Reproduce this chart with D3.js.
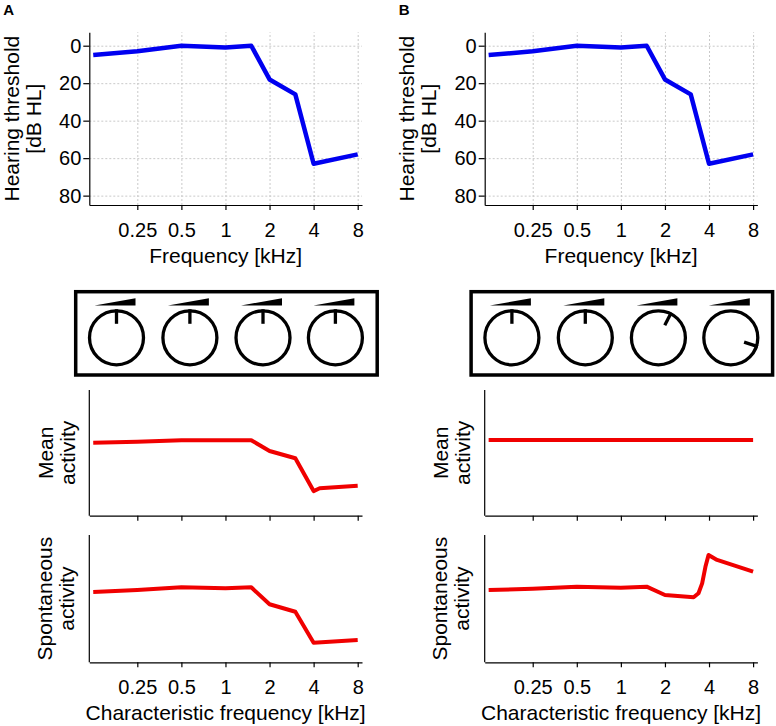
<!DOCTYPE html>
<html>
<head>
<meta charset="utf-8">
<script src="https://cdn.jsdelivr.net/npm/d3@7"></script>
<style>
  html, body { margin: 0; padding: 0; background: #fff; }
  svg { display: block; font-family: "Liberation Sans", Arial, sans-serif; }
</style>
</head>
<body>
<svg id="chart" width="776" height="726"></svg>
<script>
// ---------- data ----------
const freqTicks = [0.25, 0.5, 1, 2, 4, 8];
const freqTickLabels = ["0.25", "0.5", "1", "2", "4", "8"];
const thrTicks = [0, 20, 40, 60, 80];

const thrFreq = [0.125, 0.25, 0.5, 1, 1.5, 2, 3, 4, 8];
const thresholdA = [5, 3, 0, 1, 0, 18, 26, 63, 58];
const thresholdB = [5, 3, 0, 1, 0, 18, 26, 63, 58];

const meanFreqA = [0.125, 0.25, 0.5, 1, 1.5, 2, 3, 4, 4.4, 8];
const meanA = [0.581, 0.589, 0.6, 0.6, 0.6, 0.515, 0.457, 0.196, 0.218, 0.239];
const meanFreqB = [0.125, 0.25, 0.5, 1, 2, 4, 8];
const meanB = [0.602, 0.602, 0.602, 0.602, 0.602, 0.602, 0.602];

const spontFreqA = [0.125, 0.25, 0.5, 1, 1.5, 2, 3, 4, 8];
const spontA = [0.552, 0.568, 0.589, 0.581, 0.589, 0.456, 0.397, 0.154, 0.175];
const spontFreqB = [0.125, 0.25, 0.5, 1, 1.5, 2, 3.14, 3.39, 3.59, 3.78, 3.97, 4.54, 8];
const spontB = [0.568, 0.578, 0.594, 0.586, 0.594, 0.529, 0.511, 0.542, 0.62, 0.75, 0.843, 0.804, 0.712];

// knob indicator angles (degrees clockwise from top)
const knobAnglesA = [0, 0, 0, 0];
const knobAnglesB = [0, 0, 27, 108];

const panelLabels = ["A", "B"];

// ---------- layout ----------
const svg = d3.select("#chart");
const FONT_TICK = 20, FONT_TITLE = 21;
const plotW = 272.7;
const topC = { y: 32.3, h: 172.7 };
const meanC = { y: 390, h: 125.7 };
const spontC = { y: 535, h: 127.3 };

const x = d3.scaleLog().base(2).domain([0.1175, 8.56]).range([0, plotW]);
const yThr = d3.scaleLinear().domain([-7.15, 85]).range([0, topC.h]);
const yMean = d3.scaleLinear().domain([0, 1]).range([meanC.h, 0]);
const ySpont = d3.scaleLinear().domain([0, 1]).range([spontC.h, 0]);

function styleAxis(g) {
  g.selectAll(".domain").attr("stroke", "#000").attr("stroke-width", 1.2);
  g.selectAll(".tick line").attr("stroke", "#000").attr("stroke-width", 1.2);
  g.selectAll(".tick text").attr("fill", "#000").attr("font-size", FONT_TICK);
}

function drawPanel(px, cfg) {
  const root = svg.append("g");

  root.append("text").attr("x", px - 86).attr("y", 15)
    .attr("font-size", 15).attr("font-weight", "bold").text(cfg.label);

  // ---- top: audiogram ----
  const gt = root.append("g").attr("transform", `translate(${px},${topC.y})`);
  gt.append("g").attr("transform", `translate(0,${topC.h})`)
    .call(d3.axisBottom(x).tickValues(freqTicks).tickSize(-topC.h).tickFormat(""))
    .call(g => g.select(".domain").remove())
    .call(g => g.selectAll("line").attr("stroke", "#c9c9c9").attr("stroke-dasharray", "2,2"));
  gt.append("g")
    .call(d3.axisLeft(yThr).tickValues(thrTicks).tickSize(-plotW).tickFormat(""))
    .call(g => g.select(".domain").remove())
    .call(g => g.selectAll("line").attr("stroke", "#c9c9c9").attr("stroke-dasharray", "2,2"));
  gt.append("g").attr("transform", `translate(0,${topC.h})`)
    .call(d3.axisBottom(x).tickValues(freqTicks).tickSize(5).tickSizeOuter(0).tickPadding(12.5)
      .tickFormat((d, i) => freqTickLabels[i]))
    .call(styleAxis);
  gt.append("g")
    .call(d3.axisLeft(yThr).tickValues(thrTicks).tickSize(6).tickSizeOuter(0).tickPadding(2))
    .call(styleAxis);
  gt.append("path")
    .datum(cfg.thrFreq.map((f, i) => [f, cfg.thr[i]]))
    .attr("fill", "none").attr("stroke", "#0000f0").attr("stroke-width", 4.5)
    .attr("stroke-linejoin", "round")
    .attr("d", d3.line().x(d => x(d[0])).y(d => yThr(d[1])));
  gt.append("text").attr("x", plotW / 2).attr("y", 263.3 - topC.y)
    .attr("text-anchor", "middle").attr("font-size", FONT_TITLE).text("Frequency [kHz]");
  const ylab = gt.append("text").attr("transform", `translate(${18.5 - 89.3},${topC.h / 2}) rotate(-90)`)
    .attr("text-anchor", "middle").attr("font-size", FONT_TITLE);
  ylab.append("tspan").attr("x", 0).attr("y", 0).text("Hearing threshold");
  ylab.append("tspan").attr("x", 0).attr("y", 22).text("[dB HL]");

  // ---- knob box ----
  const boxX = px - 13.6, boxY = 291.7, boxW = 301.5, boxH = 83.3;
  const gk = root.append("g");
  gk.append("rect").attr("x", boxX).attr("y", boxY).attr("width", boxW).attr("height", boxH)
    .attr("fill", "none").attr("stroke", "#000").attr("stroke-width", 3.5);
  const knobCx = [40.8, 114.2, 187.3, 259.7];
  const kcy = 337.8, kr = 27;
  cfg.knobs.forEach((ang, i) => {
    const cx = boxX + knobCx[i];
    const k = gk.append("g").attr("transform", `translate(${cx},${kcy})`);
    k.append("circle").attr("r", kr).attr("fill", "none").attr("stroke", "#000").attr("stroke-width", 3.3);
    const a = ang * Math.PI / 180;
    k.append("line")
      .attr("x1", Math.sin(a) * (kr + 1.5)).attr("y1", -Math.cos(a) * (kr + 1.5))
      .attr("x2", Math.sin(a) * 14).attr("y2", -Math.cos(a) * 14)
      .attr("stroke", "#000").attr("stroke-width", 3.3);
    k.append("path").attr("d", "M-22,-32.3 L19,-39.5 L19,-32.3 Z").attr("fill", "#000");
  });

  // ---- mean activity ----
  const gm = root.append("g").attr("transform", `translate(${px},${meanC.y})`);
  gm.append("g").attr("transform", `translate(0,${meanC.h})`)
    .call(d3.axisBottom(x).tickValues(freqTicks).tickSize(5).tickSizeOuter(0).tickFormat(""))
    .call(styleAxis);
  gm.append("line").attr("x1", 0).attr("x2", 0).attr("y1", 0).attr("y2", meanC.h)
    .attr("stroke", "#000").attr("stroke-width", 1.2);
  gm.append("path")
    .datum(cfg.meanFreq.map((f, i) => [f, cfg.mean[i]]))
    .attr("fill", "none").attr("stroke", "#f00000").attr("stroke-width", 4)
    .attr("stroke-linejoin", "round")
    .attr("d", d3.line().x(d => x(d[0])).y(d => yMean(d[1])));
  const ml = gm.append("text").attr("transform", `translate(${53 - 89.3},${meanC.h / 2}) rotate(-90)`)
    .attr("text-anchor", "middle").attr("font-size", FONT_TITLE);
  ml.append("tspan").attr("x", 0).attr("y", 0).text("Mean");
  ml.append("tspan").attr("x", 0).attr("y", 22).text("activity");

  // ---- spontaneous activity ----
  const gs = root.append("g").attr("transform", `translate(${px},${spontC.y})`);
  gs.append("g").attr("transform", `translate(0,${spontC.h})`)
    .call(d3.axisBottom(x).tickValues(freqTicks).tickSize(5).tickSizeOuter(0).tickPadding(12.5)
      .tickFormat((d, i) => freqTickLabels[i]))
    .call(styleAxis);
  gs.append("line").attr("x1", 0).attr("x2", 0).attr("y1", 0).attr("y2", spontC.h)
    .attr("stroke", "#000").attr("stroke-width", 1.2);
  gs.append("path")
    .datum(cfg.spontFreq.map((f, i) => [f, cfg.spont[i]]))
    .attr("fill", "none").attr("stroke", "#f00000").attr("stroke-width", 4)
    .attr("stroke-linejoin", "round")
    .attr("d", d3.line().x(d => x(d[0])).y(d => ySpont(d[1])));
  const sl = gs.append("text").attr("transform", `translate(${51.5 - 89.3},${spontC.h / 2}) rotate(-90)`)
    .attr("text-anchor", "middle").attr("font-size", FONT_TITLE);
  sl.append("tspan").attr("x", 0).attr("y", 0).text("Spontaneous");
  sl.append("tspan").attr("x", 0).attr("y", 22).text("activity");
  gs.append("text").attr("x", plotW / 2).attr("y", 720 - spontC.y)
    .attr("text-anchor", "middle").attr("font-size", FONT_TITLE).text("Characteristic frequency [kHz]");
}

drawPanel(89.3, {
  label: panelLabels[0], thrFreq: thrFreq, thr: thresholdA, knobs: knobAnglesA,
  meanFreq: meanFreqA, mean: meanA, spontFreq: spontFreqA, spont: spontA
});
drawPanel(484.7, {
  label: panelLabels[1], thrFreq: thrFreq, thr: thresholdB, knobs: knobAnglesB,
  meanFreq: meanFreqB, mean: meanB, spontFreq: spontFreqB, spont: spontB
});
</script>
</body>
</html>
